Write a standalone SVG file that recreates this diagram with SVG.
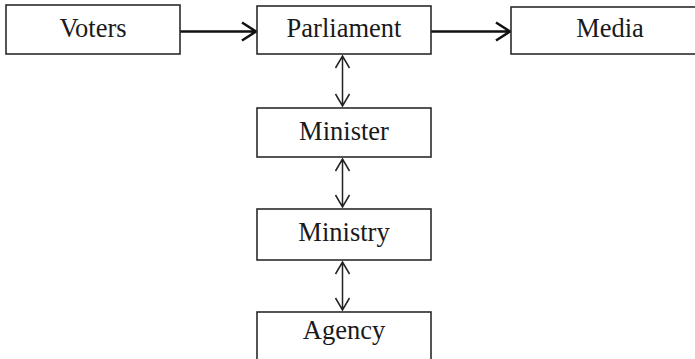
<svg xmlns="http://www.w3.org/2000/svg" width="695" height="359" viewBox="0 0 695 359">
<style>
.box{fill:#fff;stroke:#2b2b2b;stroke-width:1.6}
.lbl{font-family:"Liberation Serif","Times New Roman",serif;font-size:26.5px;fill:#1a1a1a;text-anchor:middle}
.h{stroke:#111;stroke-width:2.6;fill:none}
.v{stroke:#222;stroke-width:1.5;fill:none}
</style>
<rect width="695" height="359" fill="#fff"/>
<g id="connectors">
<path class="h" d="M180,31.5 H256 M242,22.5 L256,31.5 L242,40.5"/>
<path class="h" d="M431,31.5 H510 M496,22.5 L510,31.5 L496,40.5"/>
<path class="v" d="M342.5,56 V106 M335.5,68 L342.5,56 L349.5,68 M335.5,94 L342.5,106 L349.5,94"/>
<path class="v" d="M342.5,159 V207 M335.5,171 L342.5,159 L349.5,171 M335.5,195 L342.5,207 L349.5,195"/>
<path class="v" d="M342.5,262 V310 M335.5,274 L342.5,262 L349.5,274 M335.5,298 L342.5,310 L349.5,298"/>
</g>
<g id="voters"><rect class="box" x="6" y="5" width="174" height="49"/><text class="lbl" x="93" y="37">Voters</text></g>
<g id="parliament"><rect class="box" x="257" y="6" width="174" height="48"/><text class="lbl" x="344" y="37">Parliament</text></g>
<g id="media"><rect class="box" x="511" y="7" width="200" height="47"/><text class="lbl" x="610" y="37">Media</text></g>
<g id="minister"><rect class="box" x="257" y="108" width="174" height="49"/><text class="lbl" x="344" y="140">Minister</text></g>
<g id="ministry"><rect class="box" x="257" y="209" width="174" height="51"/><text class="lbl" x="344" y="241">Ministry</text></g>
<g id="agency"><rect class="box" x="257" y="312" width="174" height="60"/><text class="lbl" x="344" y="339">Agency</text></g>
</svg>
